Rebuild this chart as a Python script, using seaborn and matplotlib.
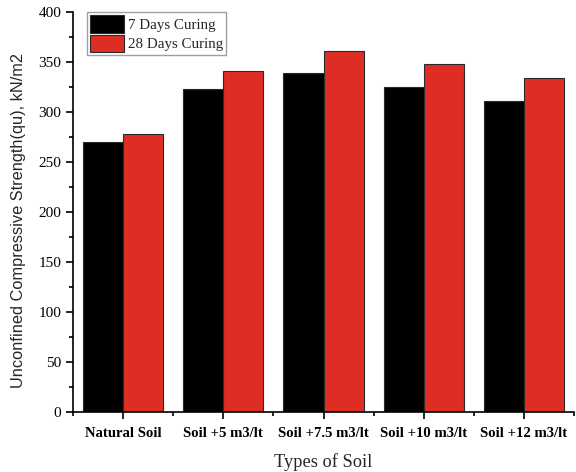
import matplotlib
matplotlib.use("Agg")
import matplotlib.pyplot as plt
import seaborn as sns
import pandas as pd
from matplotlib.ticker import MultipleLocator

categories = ["Natural Soil", "Soil +5 m3/lt", "Soil +7.5 m3/lt", "Soil +10 m3/lt", "Soil +12 m3/lt"]
series_names = ["7 Days Curing", "28 Days Curing"]
days7 = [270, 323, 339, 325, 311]
days28 = [278, 341, 361, 348, 334]

df = pd.DataFrame({
    "Soil": categories * 2,
    "Series": [series_names[0]] * len(categories) + [series_names[1]] * len(categories),
    "Value": days7 + days28,
})

sns.set_style("ticks")
plt.rcParams["font.family"] = ["Liberation Serif", "DejaVu Serif"]

fig = plt.figure(figsize=(5.76, 4.72), dpi=100)
ax = fig.add_axes([73 / 576, 60 / 472, (574 - 73) / 576, 400 / 472])

sns.barplot(data=df, x="Soil", y="Value", hue="Series", order=categories,
            hue_order=series_names, palette=["#000000", "#DE2D24"],
            width=0.8, gap=0, edgecolor="#2a2a2a", linewidth=0.8,
            errorbar=None, saturation=1, ax=ax)

ax.set_xlim(-0.5, len(categories) - 0.5)
ax.set_ylim(0, 400)
ax.yaxis.set_major_locator(MultipleLocator(50))
ax.yaxis.set_minor_locator(MultipleLocator(25))
ax.xaxis.set_minor_locator(MultipleLocator(1, offset=0.5))
for s in ["top", "right"]:
    ax.spines[s].set_visible(False)
for s in ["left", "bottom"]:
    ax.spines[s].set_linewidth(1.2)
    ax.spines[s].set_color("black")
ax.tick_params(axis="both", which="major", direction="out", length=5, width=1.2, colors="black")
ax.tick_params(axis="both", which="minor", direction="out", length=3, width=1.2, colors="black")
ax.tick_params(axis="y", labelsize=11)
ax.tick_params(axis="x", labelsize=10.6, pad=6)
for lbl in ax.get_xticklabels():
    lbl.set_fontweight("bold")

ax.set_xlabel("Types of Soil", fontsize=13.2, labelpad=9)
ax.set_ylabel("Unconfined Compressive Strength(qu), kN/m2", fontsize=11.8,
              family=["Liberation Sans", "DejaVu Sans"], labelpad=9)
ax.yaxis.set_label_coords(-0.093, 0.48)

leg = ax.legend(loc="upper left", bbox_to_anchor=(0.027, 1.0), fontsize=10.8,
                frameon=True, fancybox=False, handlelength=2.3, handleheight=1.45,
                borderpad=0.2, labelspacing=0.12, handletextpad=0.25, borderaxespad=0)
leg.get_frame().set_edgecolor("#888888")
leg.get_frame().set_linewidth(1.0)
leg.set_title(None)

fig.savefig("out.png", dpi=100)
